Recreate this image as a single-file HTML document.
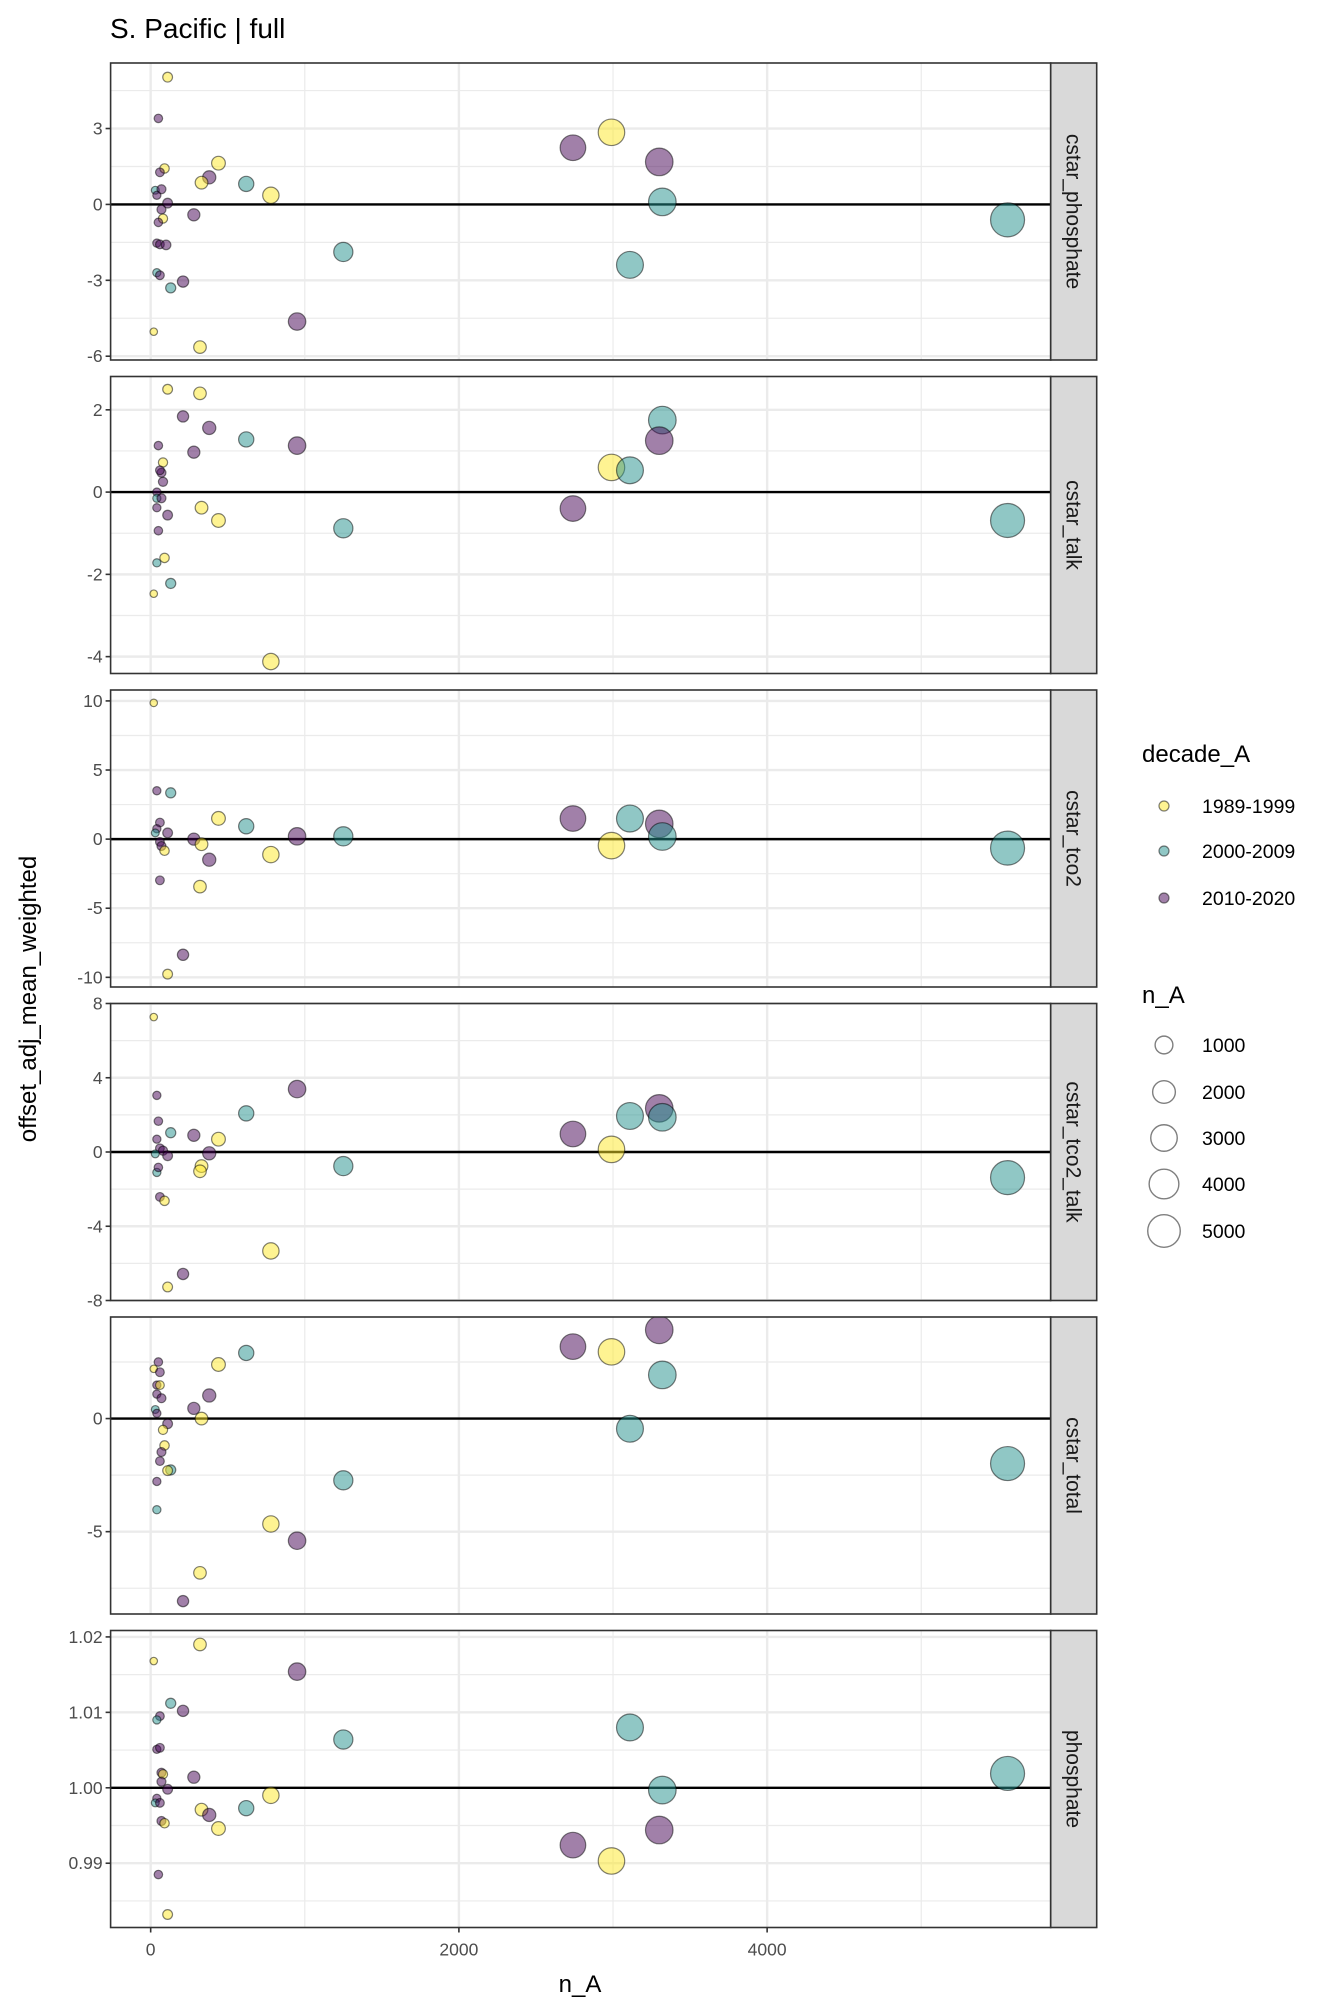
<!DOCTYPE html>
<html><head><meta charset="utf-8">
<style>
html,body{margin:0;padding:0;background:#fff;}
svg{display:block;font-family:"Liberation Sans",sans-serif;}
</style></head>
<body>
<svg id="chart" width="1344" height="2016" viewBox="0 0 1344 2016" xmlns="http://www.w3.org/2000/svg">
<text x="110" y="38" font-size="28" fill="#000">S. Pacific | full</text>
<text x="580" y="1992" font-size="24" text-anchor="middle" fill="#000">n_A</text>
<text x="0" y="0" font-size="24" text-anchor="middle" fill="#000" transform="translate(36,999) rotate(-90)">offset_adj_mean_weighted</text>
<g id="panels"></g>
<g id="legend"></g>
</svg>
<script>
const panelNames = ["cstar_phosphate","cstar_talk","cstar_tco2","cstar_tco2_talk","cstar_total","phosphate"];
const decades = ["1989-1999","2000-2009","2010-2020"];
const xTicks = [0,2000,4000];
const xMinor = [1000,3000,5000];
const yMajor = [[-6,-3,0,3],[-4,-2,0,2],[-10,-5,0,5,10],[-8,-4,0,4,8],[-5,0],[0.99,1.00,1.01,1.02]];
const yMinor = [[-4.5,-1.5,1.5,4.5],[-3,-1,1],[-7.5,-2.5,2.5,7.5],[-6,-2,2,6],[-7.5,-2.5,2.5],[0.985,0.995,1.005,1.015]];
const yLabels = [["-6","-3","0","3"],["-4","-2","0","2"],["-10","-5","0","5","10"],["-8","-4","0","4","8"],["-5","0"],["0.99","1.00","1.01","1.02"]];
const yDomain = [[-6.15,5.59],[-4.41,2.81],[-10.7,10.79],[-8,8],[-8.64,4.49],[0.98148,1.02085]];
const refLine = [0,0,0,0,0,1];
const sizeBreaks = [1000,2000,3000,4000,5000];
// decade index: 0=1989-1999, 1=2000-2009, 2=2010-2020
const p1n = [110,50,90,60,440,380,330,620,780,30,70,40,110,280,70,80,50,40,60,100,40,60,130,210,1250,950,20,320,2740,2990,3300,3320,3110,5560];
const p1v = [5.03,3.4,1.42,1.27,1.63,1.07,0.86,0.81,0.36,0.56,0.6,0.36,0.05,-0.41,-0.2,-0.56,-0.71,-1.53,-1.58,-1.6,-2.7,-2.8,-3.3,-3.05,-1.88,-4.63,-5.03,-5.64,2.24,2.85,1.68,0.1,-2.39,-0.61];
const p1d = [0,2,0,2,0,2,0,1,0,1,2,2,2,2,2,0,2,2,2,2,1,2,1,2,1,2,0,0,2,0,2,1,1,1];
const p2n = [110,320,210,380,620,950,50,280,80,70,60,80,40,40,70,40,330,440,110,50,1250,90,40,130,20,780,3320,3300,2990,3110,2740,5560];
const p2v = [2.5,2.4,1.84,1.56,1.28,1.13,1.13,0.97,0.72,0.47,0.53,0.25,0,-0.15,-0.15,-0.38,-0.38,-0.69,-0.56,-0.94,-0.88,-1.6,-1.72,-2.22,-2.47,-4.12,1.75,1.25,0.6,0.53,-0.4,-0.69];
const p2d = [0,0,2,2,1,2,2,2,0,2,2,2,2,1,2,2,0,0,2,2,1,0,1,1,0,0,1,2,0,1,2,1];
const p3n = [20,40,130,440,60,620,950,1250,280,110,40,30,60,70,330,90,380,780,60,320,210,110,2740,3110,3300,2990,3320,5560];
const p3v = [9.86,3.5,3.35,1.5,1.2,0.93,0.2,0.2,0,0.45,0.75,0.45,-0.2,-0.5,-0.37,-0.84,-1.49,-1.12,-2.98,-3.44,-8.37,-9.77,1.49,1.49,1.1,-0.47,0.19,-0.65];
const p3d = [0,2,1,0,2,1,2,1,2,2,2,1,2,2,0,0,2,0,2,0,2,0,2,1,2,0,1,1];
const p4n = [20,40,620,950,50,40,130,280,440,60,80,110,380,30,40,50,330,320,1250,60,90,780,210,110,2740,2990,3110,3300,3320,5560];
const p4v = [7.27,3.05,2.08,3.39,1.66,0.69,1.04,0.9,0.69,0.2,0.07,-0.2,-0.07,-0.1,-1.1,-0.83,-0.76,-1.04,-0.76,-2.42,-2.63,-5.33,-6.57,-7.27,0.97,0.14,1.94,2.35,1.87,-1.38];
const p4d = [0,2,1,2,2,2,1,2,0,2,2,2,2,1,1,2,0,0,1,2,0,0,2,0,2,0,1,2,1,1];
const p5n = [620,440,50,20,60,40,60,40,70,380,280,30,40,330,110,80,90,70,60,130,110,40,40,1250,780,950,320,210,2740,2990,3300,3320,3110,5560];
const p5v = [2.9,2.39,2.5,2.2,2.05,1.48,1.48,1.08,0.9,1.02,0.45,0.4,0.23,0,-0.23,-0.5,-1.19,-1.48,-1.88,-2.27,-2.3,-2.78,-4.03,-2.73,-4.66,-5.4,-6.82,-8.07,3.18,2.95,3.92,1.93,-0.45,-1.99];
const p5d = [1,0,2,0,2,2,0,2,2,2,2,1,2,0,2,0,0,2,2,1,0,2,1,1,0,2,0,2,2,0,2,1,1,1];
const p6n = [320,20,950,130,210,60,40,1250,40,60,70,80,280,70,110,780,40,30,60,330,380,620,70,90,440,50,110,3110,5560,3320,3300,2740,2990];
const p6v = [1.019,1.0168,1.0154,1.0112,1.0102,1.0095,1.009,1.0064,1.0051,1.0053,1.002,1.0018,1.0014,1.0008,0.9998,0.999,0.9986,0.998,0.998,0.9971,0.9964,0.9973,0.9956,0.9953,0.9946,0.9885,0.9832,1.008,1.0019,0.9997,0.9944,0.9924,0.9903];
const p6d = [0,0,2,1,2,2,1,1,2,2,2,0,2,2,2,0,2,1,2,0,2,1,2,0,0,2,0,1,1,1,2,2,0];
const allN = [p1n,p2n,p3n,p4n,p5n,p6n];
const allV = [p1v,p2v,p3v,p4v,p5v,p6v];
const allD = [p1d,p2d,p3d,p4d,p5d,p6d];

const NS = "http://www.w3.org/2000/svg";
const colors = ["#FDE725","#21908C","#440154"];
const L = 110.6, R = 1050.7, SW = 46, TOP0 = 63, PH = 297, STEP = 313.5;
const xDomain = [-260, 5840];
function xScale(v){ return L + (v - xDomain[0]) / (xDomain[1] - xDomain[0]) * (R - L); }
function yScale(i, v){ const d = yDomain[i]; const top = TOP0 + i*STEP; return top + PH - (v - d[0])/(d[1]-d[0])*PH; }
const nMin = 10, nMax = 5560;
function rScale(n){ return 3.5 + 13.5*(Math.sqrt(n)-Math.sqrt(nMin))/(Math.sqrt(nMax)-Math.sqrt(nMin)); }
function mk(tag, attrs, parent){ const e = document.createElementNS(NS, tag); for (const k in attrs) e.setAttribute(k, attrs[k]); parent.appendChild(e); return e; }

const panels = document.getElementById("panels");
for (let i = 0; i < 6; i++) {
  const top = TOP0 + i*STEP;
  const g = mk("g", {}, panels);
  
  
  const bg = mk("rect", {x:L, y:top, width:R-L, height:PH, fill:"#fff"}, g);
  
  
  yMinor[i].forEach(v => { const y = yScale(i,v); if (y>top && y<top+PH) { const l = mk("line",{x1:L,x2:R,y1:y,y2:y,stroke:"#ebebeb","stroke-width":1.2},g);
    
     } });
  xMinor.forEach(v => { const x = xScale(v); const l = mk("line",{x1:x,x2:x,y1:top,y2:top+PH,stroke:"#ebebeb","stroke-width":1.2},g);
    
     });
  yMajor[i].forEach((v,k) => { const y = yScale(i,v);
    const l = mk("line",{x1:L,x2:R,y1:y,y2:y,stroke:"#ebebeb","stroke-width":2.4},g);
    
    
    const t = mk("line",{x1:L-5,x2:L,y1:y,y2:y,stroke:"#333","stroke-width":1.6},g);
    
    
    const tx = mk("text",{x:L-8,y:y+6,"font-size":17.5,"text-anchor":"end",fill:"#4d4d4d"},g);
    tx.textContent = yLabels[i][k];
    
     });
  xTicks.forEach(v => { const x = xScale(v); const l = mk("line",{x1:x,x2:x,y1:top,y2:top+PH,stroke:"#ebebeb","stroke-width":2.4},g);
    
     });
  const ry = yScale(i, refLine[i]);
  const ref = mk("line",{x1:L,x2:R,y1:ry,y2:ry,stroke:"#000","stroke-width":2.4},g);
  
  
  const clipId = "clip"+i;
  const cp = mk("clipPath",{id:clipId},g);
  mk("rect",{x:L,y:top,width:R-L,height:PH},cp);
  const pts = mk("g",{"clip-path":"url(#"+clipId+")"},g);
  for (let j = 0; j < allN[i].length; j++) {
    const c = mk("circle",{cx:xScale(allN[i][j]), cy:yScale(i, allV[i][j]), r:rScale(allN[i][j]),
      fill:colors[allD[i][j]], "fill-opacity":0.5, stroke:"#000", "stroke-opacity":0.5, "stroke-width":1.2}, pts);
    
    
  }
  const border = mk("rect",{x:L, y:top, width:R-L, height:PH, fill:"none", stroke:"#333", "stroke-width":1.6},g);
  
  
  const strip = mk("rect",{x:R, y:top, width:SW, height:PH, fill:"#d9d9d9", stroke:"#333", "stroke-width":1.6},g);
  
  
  const st = mk("text",{x:0,y:0,"font-size":21,"text-anchor":"middle",fill:"#1a1a1a",transform:"translate("+(R+SW/2-7)+","+(top+PH/2)+") rotate(90)"},g);
  st.textContent = panelNames[i];
  
  
  if (i === 5) {
    xTicks.forEach(v => { const x = xScale(v);
      const t = mk("line",{x1:x,x2:x,y1:top+PH,y2:top+PH+5,stroke:"#333","stroke-width":1.6},g);
      
      
      const tx = mk("text",{x:x,y:top+PH+28,"font-size":17.5,"text-anchor":"middle",fill:"#4d4d4d"},g);
      tx.textContent = String(v);
      
       });
  }
}

const lg = document.getElementById("legend");
const t1 = mk("text",{x:1142,y:762,"font-size":24,fill:"#000"},lg);
t1.textContent = "decade_A";


const dy = [806,851,898];
decades.forEach((d,k) => {
  const c = mk("circle",{cx:1164,cy:dy[k],r:5,fill:colors[k],"fill-opacity":0.5,stroke:"#000","stroke-opacity":0.5,"stroke-width":1.2},lg);
  
  
  const t = mk("text",{x:1202,y:dy[k]+7,"font-size":19.5,fill:"#000"},lg);
  t.textContent = d;
  
  
});
const t2 = mk("text",{x:1142,y:1003,"font-size":24,fill:"#000"},lg);
t2.textContent = "n_A";


const sy = [1045,1092,1138,1184,1231];
sizeBreaks.forEach((b,k) => {
  const c = mk("circle",{cx:1164,cy:sy[k],r:rScale(b),fill:"none",stroke:"#000","stroke-opacity":0.5,"stroke-width":1.4},lg);
  
  
  const t = mk("text",{x:1202,y:sy[k]+7,"font-size":19.5,fill:"#000"},lg);
  t.textContent = String(b);
  
  
});
</script>
</body></html>
